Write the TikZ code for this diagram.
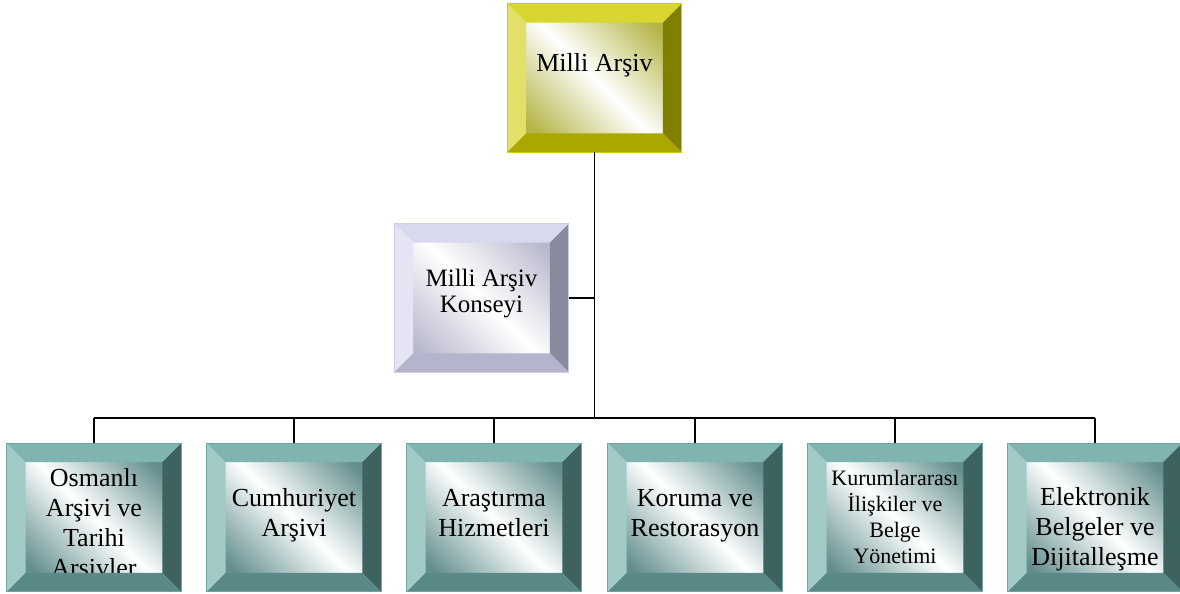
\documentclass[tikz,border=0pt]{standalone}
\usepackage{fontspec}
\setmainfont{Liberation Serif}
\usetikzlibrary{calc}
\definecolor{yTop}{RGB}{216,214,48}
\definecolor{yLeft}{RGB}{226,224,104}
\definecolor{yRight}{RGB}{128,128,0}
\definecolor{yBot}{RGB}{170,168,0}
\definecolor{yLine}{RGB}{206,204,20}
\definecolor{yFace}{RGB}{180,180,70}
\definecolor{tTop}{RGB}{128,180,176}
\definecolor{tLeft}{RGB}{162,202,198}
\definecolor{tRight}{RGB}{62,98,96}
\definecolor{tBot}{RGB}{90,138,136}
\definecolor{tLine}{RGB}{110,166,162}
\definecolor{tFace}{RGB}{100,142,142}
\definecolor{lTop}{RGB}{216,216,238}
\definecolor{lLeft}{RGB}{228,228,244}
\definecolor{lRight}{RGB}{138,138,158}
\definecolor{lBot}{RGB}{180,180,204}
\definecolor{lLine}{RGB}{206,206,228}
\definecolor{lFace}{RGB}{185,185,206}
\def\bw{19}
\newcommand\bevels[6]{%
  \fill[#2] (#1.north west) -- (#1.north east) -- ($(#1.north east)+(-\bw,\bw)$) -- ($(#1.north west)+(\bw,\bw)$) -- cycle;
  \fill[#3] (#1.north west) -- ($(#1.north west)+(\bw,\bw)$) -- ($(#1.south west)+(\bw,-\bw)$) -- (#1.south west) -- cycle;
  \fill[#4] (#1.north east) -- ($(#1.north east)+(-\bw,\bw)$) -- ($(#1.south east)+(-\bw,-\bw)$) -- (#1.south east) -- cycle;
  \fill[#5] (#1.south west) -- ($(#1.south west)+(\bw,-\bw)$) -- ($(#1.south east)+(-\bw,-\bw)$) -- (#1.south east) -- cycle;
  \draw[#6, line width=0.5pt] (#1.north west) rectangle (#1.south east);
}
\newcommand\tx[2]{\raisebox{#1}[\height][\depth]{\begin{tabular}{@{}c@{}}#2\end{tabular}}}
\begin{document}
\begin{tikzpicture}[x=0.5pt,y=-0.5pt,
  bbox/.style={minimum width=87pt, minimum height=74pt, inner sep=0pt, align=center,
    shade, top color=#1, bottom color=#1, middle color=white, shading angle=-45,
    font=\fontsize{13pt}{15pt}\selectfont},
  conn/.style={draw=black, line width=0.9pt}]
\useasboundingbox (0,0) rectangle (1180,594);
\fill[white] (0,0) rectangle (1180,594);
% nodes
\node[bbox=yFace] (top) at (594.5,78) {\tx{6.5pt}{Milli Arşiv}};
\node[bbox=lFace, font=\fontsize{12.5pt}{13pt}\selectfont] (mid) at (481.5,298) {\tx{2pt}{Milli Arşiv\\Konseyi}};
\node[bbox=tFace] (b1) at (94,517.5) {\tx{-4pt}{Osmanlı\\Arşivi ve\\Tarihi\\Arşivler}};
\node[bbox=tFace] (b2) at (294,517.5) {\tx{1.25pt}{Cumhuriyet\\Arşivi}};
\node[bbox=tFace] (b3) at (494,517.5) {\tx{1.25pt}{Araştırma\\Hizmetleri}};
\node[bbox=tFace] (b4) at (695,517.5) {\tx{1.25pt}{Koruma ve\\Restorasyon}};
\node[bbox=tFace, font=\fontsize{11pt}{13pt}\selectfont] (b5) at (895,517.5) {\tx{-0.75pt}{Kurumlararası\\İlişkiler ve\\Belge\\Yönetimi}};
\node[bbox=tFace] (b6) at (1095,517.5) {\tx{-6pt}{Elektronik\\Belgeler ve\\Dijitalleşme}};
% bevels
\bevels{top}{yTop}{yLeft}{yRight}{yBot}{yLine}
\bevels{mid}{lTop}{lLeft}{lRight}{lBot}{lLine}
\foreach \n in {b1,b2,b3,b4,b5,b6}{\bevels{\n}{tTop}{tLeft}{tRight}{tBot}{tLine}}
% connectors
\coordinate (bus) at (594.5,418);
\coordinate (midj) at (594.5,298);
\draw[conn] (top.south) -- (bus);
\draw[conn] (mid.east) -- (midj);
\draw[conn] (b1.north |- bus) -- (b6.north |- bus);
\foreach \n in {b1,b2,b3,b4,b5,b6}{\draw[conn] (\n.north |- bus) -- (\n.north);}
\end{tikzpicture}
\end{document}
